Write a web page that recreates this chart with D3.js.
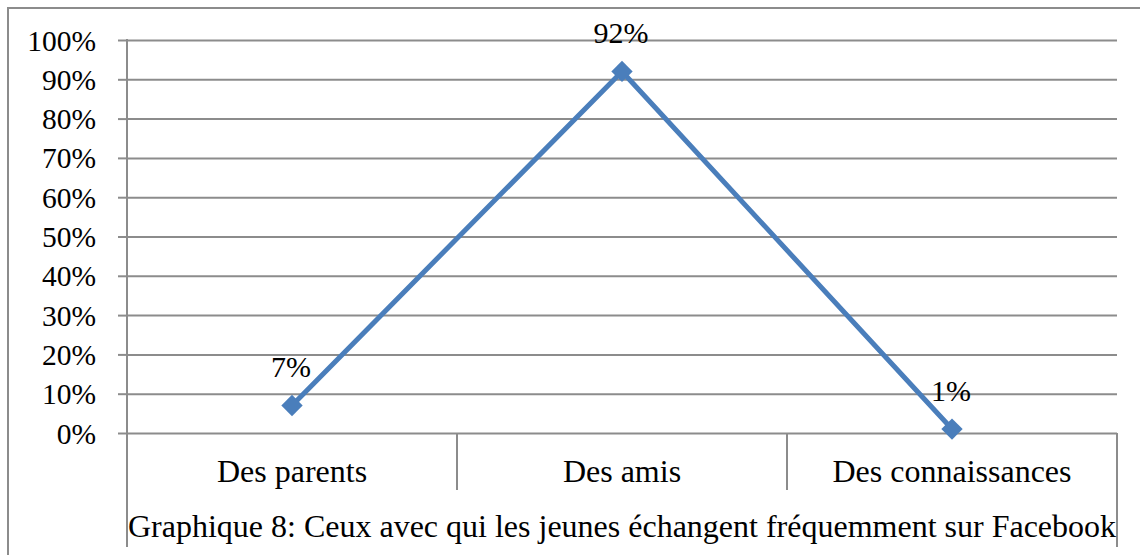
<!DOCTYPE html>
<html>
<head>
<meta charset="utf-8">
<script src="https://cdn.jsdelivr.net/npm/d3@7"></script>
<style>
  body { margin: 0; background: #fff; }
  svg { display: block; font-family: "Liberation Serif", "Times New Roman", serif; }
  .grid line { stroke: #8c8c8c; stroke-width: 2; }
  .grid path { display: none; }
  .yAxis path { display: none; }
  .yAxis line { stroke: #8c8c8c; stroke-width: 2; }
  .yAxis text { font-size: 29.5px; fill: #000; }
</style>
</head>
<body>
<div id="chart"></div>
<script>
// 資料
var categories = ['Des parents', 'Des amis', 'Des connaissances'];
var values = [0.07, 0.92, 0.01];
var valueLabels = ['7%', '92%', '1%'];
var yTicks = [0, 0.1, 0.2, 0.3, 0.4, 0.5, 0.6, 0.7, 0.8, 0.9, 1];
var yTickLabels = ['0%', '10%', '20%', '30%', '40%', '50%', '60%', '70%', '80%', '90%', '100%'];
var title = 'Graphique 8: Ceux avec qui les jeunes échangent fréquemment sur Facebook';

// 畫布
const width = 1140, height = 555;
const margin = {top: 40, right: 23, bottom: 122, left: 127};
const lineColor = '#4a7ebb';
const gray = '#8c8c8c';
const serif = '"Liberation Serif", "Times New Roman", serif';

var svg = d3.select('#chart')
  .append('svg')
    .attr('width', width)
    .attr('height', height);

// 外框
svg.append('path')
  .attr('d', `M8,${height} V8 H${width}`)
  .attr('fill', 'none')
  .attr('stroke', gray)
  .attr('stroke-width', 2);

var x = d3.scaleBand()
  .domain(categories)
  .range([margin.left, width - margin.right]);
var y = d3.scaleLinear()
  .domain([0, 1])
  .range([height - margin.bottom, margin.top]);

// 格線
svg.append('g')
  .attr('class', 'grid')
  .attr('transform', `translate(${margin.left},0)`)
  .call(d3.axisLeft(y).tickValues(yTicks).tickSize(-(x.range()[1] - x.range()[0])).tickFormat(''));

// Y軸 (刻度)
svg.append('g')
  .attr('class', 'yAxis')
  .attr('transform', `translate(${margin.left},0)`)
  .call(d3.axisLeft(y).tickValues(yTicks).tickSize(9).tickPadding(22)
    .tickFormat((d, i) => yTickLabels[i]))
  .attr('font-family', serif)
  .attr('font-size', null)
  .selectAll('text')
    .attr('dy', '0.34em');

// 左右兩條長直線 + 類別分隔線
var x0 = x.range()[0], x1 = x.range()[1];
svg.append('line')
  .attr('x1', x0).attr('x2', x0)
  .attr('y1', y(1) - 1).attr('y2', 547)
  .attr('stroke', gray).attr('stroke-width', 2);
svg.append('line')
  .attr('x1', x1).attr('x2', x1)
  .attr('y1', y(0)).attr('y2', 547)
  .attr('stroke', gray).attr('stroke-width', 2);
svg.selectAll('line.sep')
  .data(categories.slice(1))
  .enter()
  .append('line')
  .attr('class', 'sep')
  .attr('x1', d => x(d)).attr('x2', d => x(d))
  .attr('y1', y(0)).attr('y2', y(0) + 57)
  .attr('stroke', gray).attr('stroke-width', 2);

// 類別文字
svg.selectAll('text.cat')
  .data(categories)
  .enter()
  .append('text')
  .attr('class', 'cat')
  .attr('x', d => x(d) + x.bandwidth() / 2)
  .attr('y', y(0) + 49)
  .attr('text-anchor', 'middle')
  .style('font-size', '32px')
  .text(d => d);

// 折線
var points = categories.map((c, i) => ({name: c, value: values[i], label: valueLabels[i]}));
var line = d3.line()
  .x(d => x(d.name) + x.bandwidth() / 2)
  .y(d => y(d.value));
svg.append('path')
  .datum(points)
  .attr('d', line)
  .attr('fill', 'none')
  .attr('stroke', lineColor)
  .attr('stroke-width', 5)
  .attr('stroke-linejoin', 'round');

// 菱形點
svg.selectAll('path.marker')
  .data(points)
  .enter()
  .append('path')
  .attr('class', 'marker')
  .attr('d', d3.symbol().type(d3.symbolDiamond2).size(290))
  .attr('transform', d => `translate(${x(d.name) + x.bandwidth() / 2},${y(d.value)})`)
  .attr('fill', lineColor);

// 數值文字
svg.selectAll('text.valueLabel')
  .data(points)
  .enter()
  .append('text')
  .attr('class', 'valueLabel')
  .attr('x', d => x(d.name) + x.bandwidth() / 2 - 1)
  .attr('y', d => y(d.value) - 28)
  .attr('text-anchor', 'middle')
  .style('font-size', '30px')
  .text(d => d.label);

// 標題
svg.append('text')
  .attr('x', (x0 + x1) / 2)
  .attr('y', 537)
  .attr('text-anchor', 'middle')
  .style('font-size', '32px')
  .text(title);
</script>
</body>
</html>
